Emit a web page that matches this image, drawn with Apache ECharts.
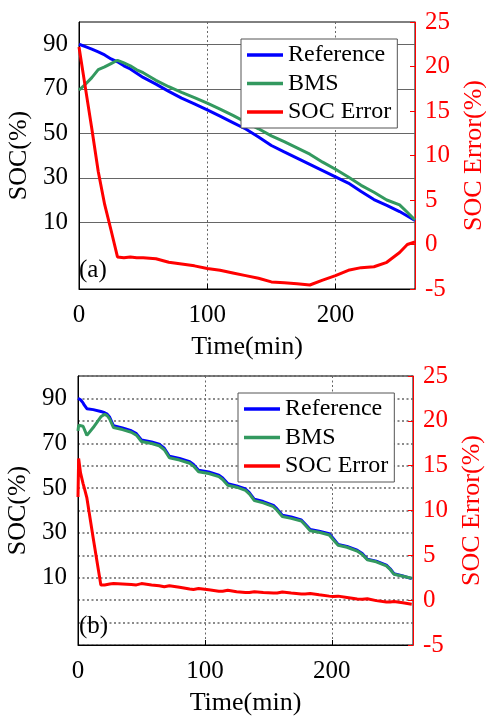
<!DOCTYPE html>
<html>
<head>
<meta charset="utf-8">
<script src="https://cdn.jsdelivr.net/npm/echarts@6/dist/echarts.min.js"></script>
<style>
  html, body { margin: 0; padding: 0; background: #fff; }
  #chart { width: 486px; height: 717px; }
</style>
</head>
<body>
<div id="chart"></div>
<script>
// tick labels
var socTicks = [10, 30, 50, 70, 90];
var seriesNames = ['Reference', 'BMS', 'SOC Error'];

// (a) data, time in min
var timeA = [0, 5, 10, 15, 20, 25, 30, 35, 40, 45, 50, 60, 70, 80, 90, 100, 110, 120, 130, 140,
  150, 160, 170, 180, 190, 200, 210, 220, 230, 240, 250, 256, 262];
var refA = [90, 88.9, 87.8, 86.6, 85.2, 83.4, 82.1, 80.3, 78.9, 77.0, 75.1, 72.1, 68.8, 65.8, 63.2, 60.5, 57.7, 54.8, 51.9, 48.3,
  44.5, 41.6, 38.8, 36.0, 33.2, 30.4, 27.6, 23.8, 20.2, 17.6, 14.8, 12.8, 10.8];
var bmsA = [69.4, 72, 75, 78.6, 79.8, 81.3, 82.8, 81.6, 80.3, 78.5, 77.2, 73.8, 70.9, 68.4, 66, 63.5, 60.8, 58, 55, 52,
  48.8, 46.2, 43.4, 40.6, 37, 33.8, 30.3, 26.6, 23.5, 20.0, 17.8, 14.5, 11];
var errA = [22.2, 17.6, 13.0, 8.2, 4.5, 1.6, -1.4, -1.5, -1.4, -1.5, -1.5, -1.6, -2.0, -2.2, -2.4, -2.7, -2.9, -3.2, -3.5, -3.8,
  -4.2, -4.3, -4.4, -4.55, -4.0, -3.5, -2.9, -2.6, -2.5, -2.0, -0.9, 0.0, 0.3];

// (b) data
var timeB = [0, 0.5, 2, 4, 5, 7, 12, 18, 21, 23, 25, 28, 35, 42, 46, 50, 58, 64, 68, 72,
  80, 88, 91, 95, 103, 111, 114, 118, 125, 132, 135, 139, 146, 154, 157, 161, 168, 176, 179, 183,
  190, 198, 201, 205, 212, 220, 224, 228, 235, 243, 246, 249, 256, 263];
var refB = [90, 90, 89.4, 88, 87, 85.4, 85, 84.2, 83.6, 83, 81.6, 77.8, 76.8, 75.6, 74.3, 71.5, 70.6, 69.6, 67.8, 64.2,
  63.2, 61.8, 60.5, 58, 57.2, 55.8, 54.5, 52, 51, 49.6, 48, 45, 44, 42.3, 40.6, 37.9, 37.1, 35.8, 34, 31.5,
  30.8, 29.6, 27.6, 24.9, 24, 22.3, 20.8, 18.3, 17.4, 15.6, 14, 11.8, 10.8, 9.6];
var bmsB = [75.5, 78, 78.3, 77.6, 76.8, 73.5, 77, 81.8, 82.9, 82.3, 80.8, 77.0, 76.1, 74.9, 73.6, 70.8, 69.9, 68.9, 67.1, 63.5,
  62.5, 61.1, 59.8, 57.3, 56.5, 55.1, 53.8, 51.3, 50.4, 49, 47.4, 44.4, 43.4, 41.7, 40, 37.3, 36.5, 35.3, 33.5, 31,
  30.3, 29.1, 27.1, 24.5, 23.6, 21.9, 20.4, 18, 17.1, 15.3, 13.7, 11.6, 10.7, 9.8];
var errB = [11.5, 15.8, 14.2, 13.0, 12.5, 11.4, 6.9, 1.7, 1.7, 1.75, 1.8, 1.85, 1.8, 1.75, 1.7, 1.85, 1.7, 1.6, 1.5, 1.6,
  1.45, 1.25, 1.2, 1.3, 1.15, 1.0, 1.0, 1.1, 0.95, 0.85, 0.85, 0.95, 0.85, 0.8, 0.8, 0.9, 0.8, 0.7, 0.7, 0.75,
  0.6, 0.45, 0.4, 0.45, 0.3, 0.12, 0.1, 0.15, -0.05, -0.2, -0.2, -0.15, -0.3, -0.45];

var FONT = 'Liberation Serif';
var colors = ['#0000ff', '#33995f', '#ff0000'];
var GRID_COLOR = '#666';
var GRID_DASH = [2, 2.5];

var SOC_MIN = -20, SOC_MAX = 100, SOC_STEP = 10;
var socLineColors = [];
for (var s = SOC_MIN; s <= SOC_MAX; s += SOC_STEP) {
  socLineColors.push(socTicks.indexOf(s) >= 0 ? GRID_COLOR : 'rgba(255,255,255,0)');
}

function pairs(t, v) {
  return t.map(function (x, i) { return [x, v[i]]; });
}

var myChart = echarts.init(document.getElementById('chart'));

function xAxisFor(gridIndex, max) {
  return {
    type: 'value', gridIndex: gridIndex, min: 0, max: max, interval: 100,
    name: 'Time(min)', nameLocation: 'middle', nameGap: 45,
    nameTextStyle: { fontFamily: FONT, fontSize: 26, color: '#000' },
    axisLine: { onZero: false, lineStyle: { color: '#000', width: 1 } },
    axisTick: { inside: true, length: 5, lineStyle: { color: '#000' } },
    axisLabel: { showMaxLabel: false, margin: 14, fontFamily: FONT, fontSize: 25, color: '#000' },
    splitLine: { show: true, lineStyle: { color: GRID_COLOR, type: GRID_DASH, width: 1 } }
  };
}

function leftAxisFor(gridIndex, splitStyle) {
  return {
    type: 'value', gridIndex: gridIndex, position: 'left', min: SOC_MIN, max: SOC_MAX, interval: SOC_STEP,
    name: 'SOC(%)', nameLocation: 'middle', nameGap: 45, nameRotate: 90,
    nameTextStyle: { fontFamily: FONT, fontSize: 26, color: '#000' },
    axisLine: { show: true, onZero: false, lineStyle: { color: '#000', width: 1 } },
    axisTick: { show: true, inside: true, length: 5, lineStyle: { color: 'rgba(0,0,0,0)' } },
    axisLabel: {
      margin: 11, fontFamily: FONT, fontSize: 25, color: '#000',
      formatter: function (v) { return socTicks.indexOf(v) >= 0 ? String(v) : ''; }
    },
    splitLine: { show: true, lineStyle: splitStyle }
  };
}

function rightAxisFor(gridIndex) {
  return {
    type: 'value', gridIndex: gridIndex, position: 'right', min: -5, max: 25, interval: 5,
    name: 'SOC Error(%)', nameLocation: 'middle', nameGap: 46, nameRotate: 90,
    nameTextStyle: { fontFamily: FONT, fontSize: 26, color: '#ff0000' },
    axisLine: { show: true, onZero: false, lineStyle: { color: '#ff0000', width: 1 } },
    axisTick: { show: true, inside: true, length: 5, lineStyle: { color: '#ff0000' } },
    axisLabel: { margin: 10, fontFamily: FONT, fontSize: 25, color: '#ff0000' },
    splitLine: { show: false }
  };
}

function lineSeries(name, x, y, t, v, color) {
  return {
    name: name, type: 'line', xAxisIndex: x, yAxisIndex: y,
    data: pairs(t, v), showSymbol: false, symbol: 'none',
    lineStyle: { color: color, width: 3 }, itemStyle: { color: color },
    emphasis: { disabled: true }
  };
}

function legendFor(left, top) {
  return {
    orient: 'vertical', left: left, top: top,
    data: seriesNames.map(function (n) { return { name: n, icon: 'rect' }; }),
    itemWidth: 36, itemHeight: 3.5, itemGap: 4.5,
    padding: [4, 6, 4, 6],
    backgroundColor: '#fff', borderColor: '#555', borderWidth: 1, borderRadius: 0,
    textStyle: { fontFamily: FONT, fontSize: 24, color: '#000' },
    selectedMode: false
  };
}

var titleStyle = { fontFamily: FONT, fontSize: 25, fontWeight: 'normal', color: '#000' };

var option = {
  backgroundColor: '#fff',
  animation: false,
  textStyle: { fontFamily: FONT },
  color: colors,
  title: [
    { text: '(a)', left: 79, top: 258, padding: 0, textStyle: titleStyle },
    { text: '(b)', left: 79, top: 614, padding: 0, textStyle: titleStyle }
  ],
  legend: [legendFor(241, 39), legendFor(238, 393)],
  grid: [
    { left: 79, top: 22, width: 336, height: 267, show: true, borderColor: '#000', borderWidth: 1, outerBoundsMode: 'none' },
    { left: 78, top: 376, width: 335, height: 269, show: true, borderColor: '#000', borderWidth: 1, outerBoundsMode: 'none' }
  ],
  xAxis: [xAxisFor(0, 262), xAxisFor(1, 264)],
  yAxis: [
    leftAxisFor(0, { color: socLineColors, type: 'solid', width: 1 }),
    rightAxisFor(0),
    leftAxisFor(1, { color: '#666', type: GRID_DASH, width: 1.5 }),
    rightAxisFor(1)
  ],
  series: [
    lineSeries('Reference', 0, 0, timeA, refA, colors[0]),
    lineSeries('BMS', 0, 0, timeA, bmsA, colors[1]),
    lineSeries('SOC Error', 0, 1, timeA, errA, colors[2]),
    lineSeries('Reference', 1, 2, timeB, refB, colors[0]),
    lineSeries('BMS', 1, 2, timeB, bmsB, colors[1]),
    lineSeries('SOC Error', 1, 3, timeB, errB, colors[2])
  ]
};

option && myChart.setOption(option);
</script>
</body>
</html>
